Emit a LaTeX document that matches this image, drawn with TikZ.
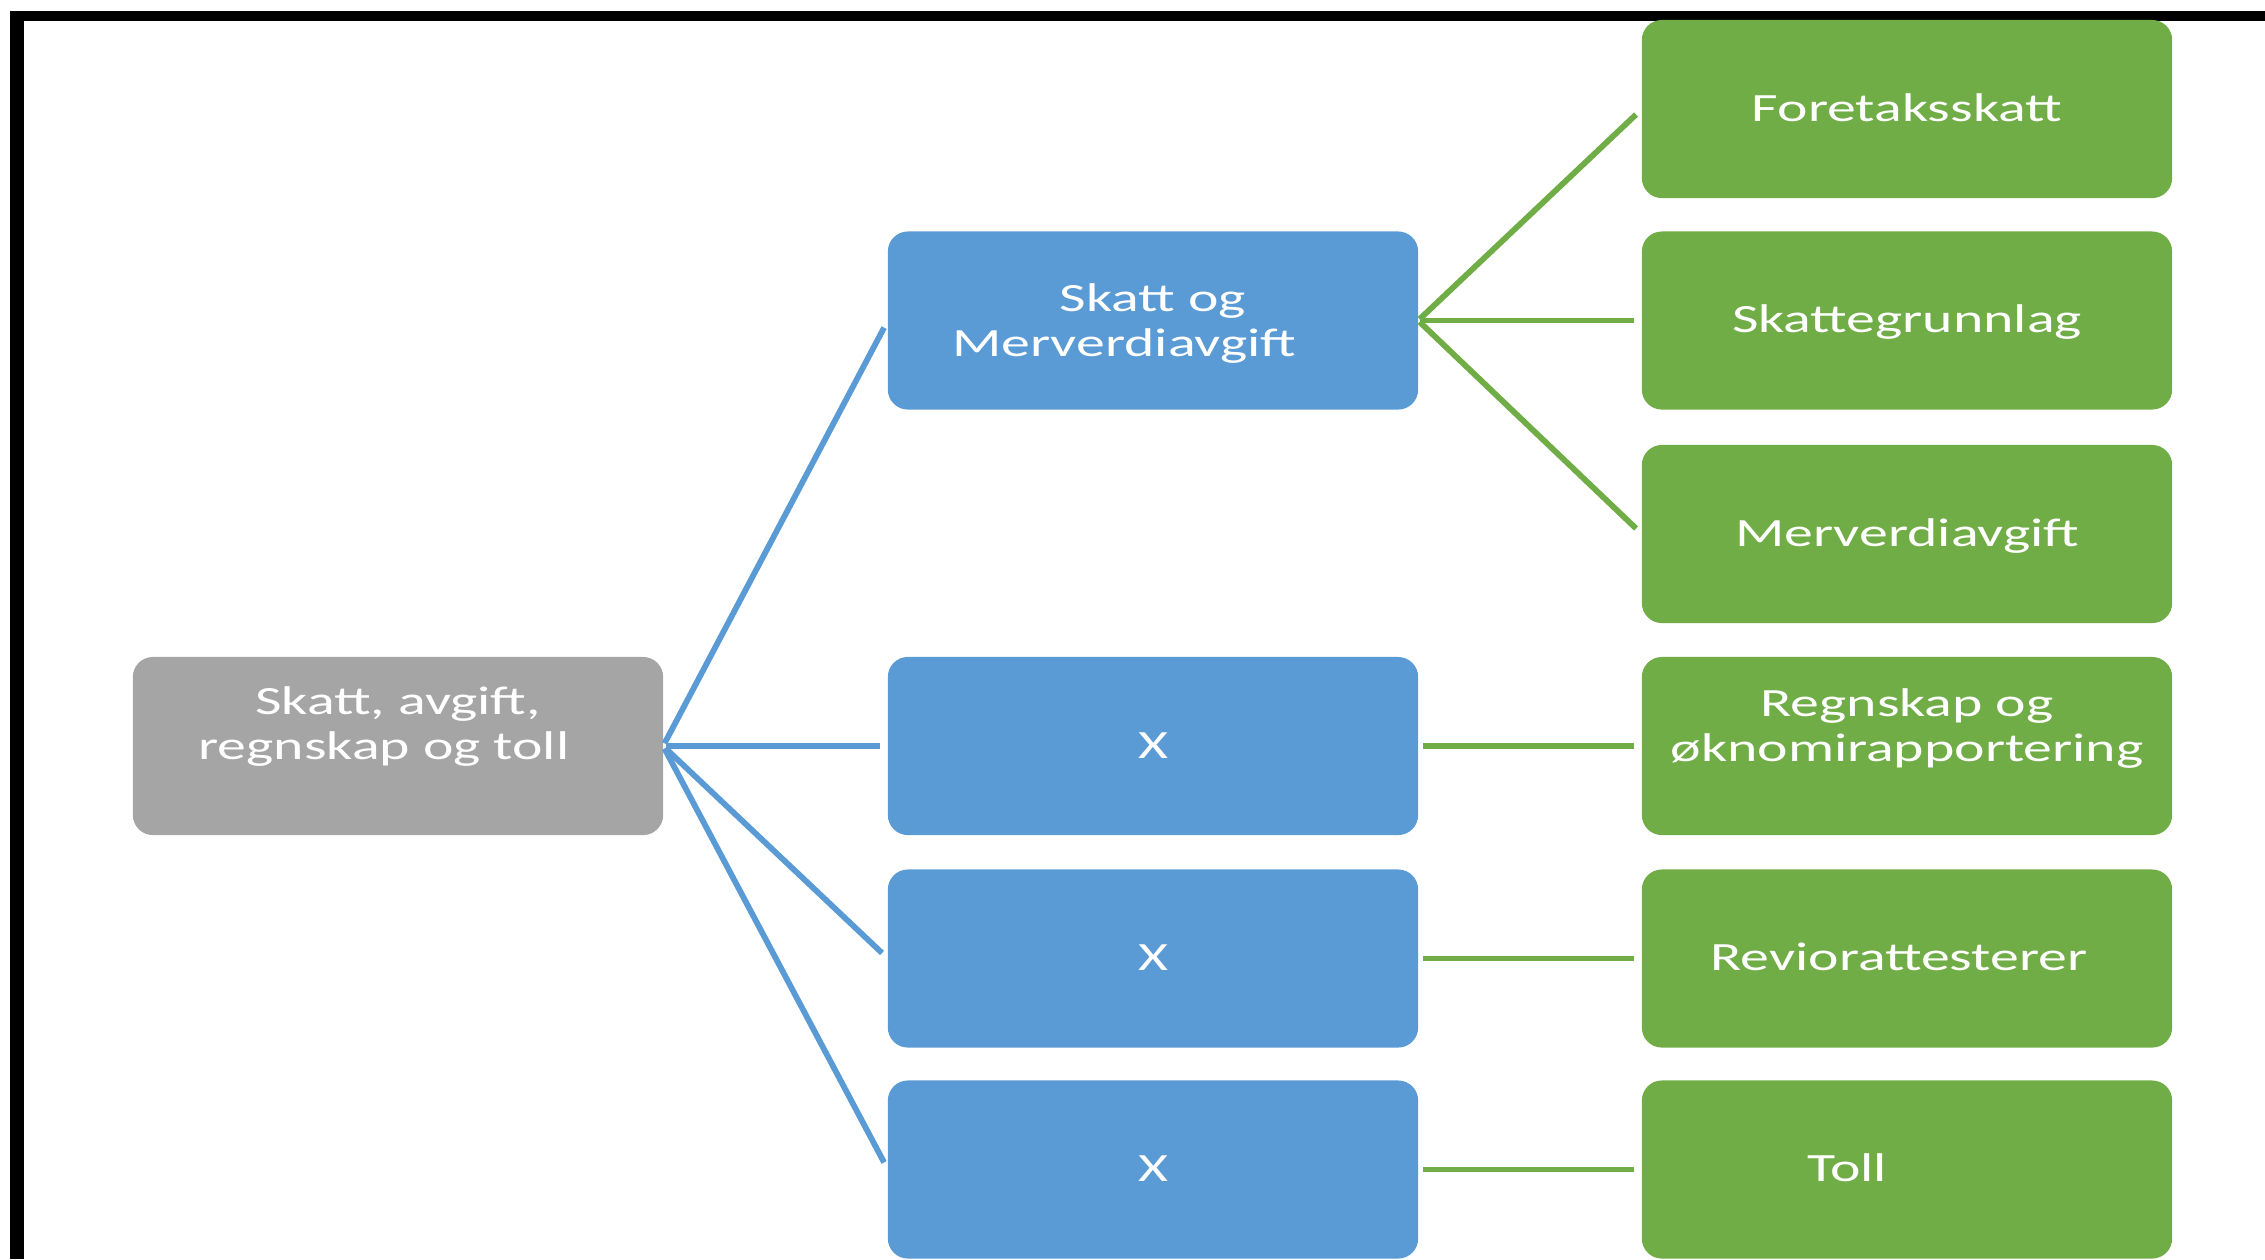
\documentclass[tikz,border=0pt]{standalone}
\usepackage{fontspec}
\setmainfont{Carlito}[FakeStretch=1.44]
\definecolor{cblue}{HTML}{5B9BD5}
\definecolor{cgreen}{HTML}{70AD47}
\definecolor{cgray}{HTML}{A5A5A5}
\begin{document}
\begin{tikzpicture}[x=0.01cm,y=-0.01cm,
  box/.style={rectangle, rounded corners=0.2cm, minimum width=5.3cm, minimum height=1.78cm,
    inner sep=0pt, outer sep=0pt, text=white, align=center,
    font=\fontsize{11.4pt}{12.8pt}\selectfont},
  one/.style={text height=0.28cm, text depth=0.04cm},
  graybox/.style={box, fill=cgray},
  bluebox/.style={box, fill=cblue},
  greenbox/.style={box, fill=cgreen},
  bline/.style={draw=cblue, line width=0.058cm, shorten >=0.08cm},
  gline/.style={draw=cgreen, line width=0.058cm, shorten >=0.08cm}]
\useasboundingbox (0,0) rectangle (2265,1259);
% frame
\fill[black] (10,11) rectangle (24,1259);
\fill[black] (10,11) rectangle (2265,21);
% boxes
\node[graybox] (root) at (398,746) {Skatt, avgift,\\regnskap og toll\hspace*{0.28cm}\rule[-0.45cm]{0pt}{0.45cm}};
\node[bluebox] (b1) at (1153,320.5) {\rule{0pt}{0.33cm}Skatt og\\Merverdiavgift\hspace*{0.58cm}};
\node[bluebox, one] (b2) at (1153,746) {X};
\node[bluebox, one] (b3) at (1153,958.5) {X};
\node[bluebox, one] (b4) at (1153,1169.5) {X};
\node[greenbox, one] (g1) at (1907,109) {Foretaksskatt};
\node[greenbox, one] (g2) at (1907,320.5) {Skattegrunnlag};
\node[greenbox, one] (g3) at (1907,534) {Merverdiavgift};
\node[greenbox] (g4) at (1907,746) {Regnskap og\\øknomirapportering\rule[-0.41cm]{0pt}{0.41cm}};
\node[greenbox, one] (g5) at (1907,958.5) {Reviorattesterer\hspace*{0.16cm}};
\node[greenbox, one] (g6) at (1907,1169.5) {Toll\hspace*{1.2cm}};
% connectors
\draw[bline, shorten <=0.03cm] (root.east) -- (b1.west);
\draw[bline, shorten <=0.03cm] (root.east) -- (b2.west);
\draw[bline, shorten <=0.03cm] (root.east) -- (b3.west);
\draw[bline, shorten <=0.03cm] (root.east) -- (b4.west);
\draw[gline, shorten <=0.02cm] (b1.east) -- (g1.west);
\draw[gline, shorten <=0.02cm] (b1.east) -- (g2.west);
\draw[gline, shorten <=0.02cm] (b1.east) -- (g3.west);
\draw[gline, shorten <=0.05cm] (b2.east) -- (g4.west);
\draw[gline, shorten <=0.05cm] (b3.east) -- (g5.west);
\draw[gline, shorten <=0.05cm] (b4.east) -- (g6.west);
\end{tikzpicture}
\end{document}
